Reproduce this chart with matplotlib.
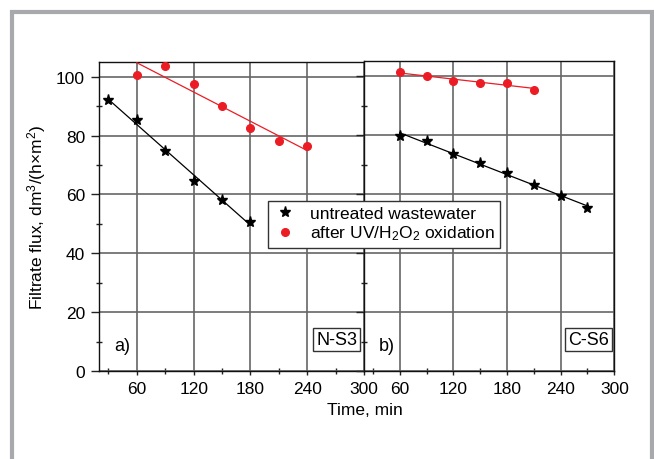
import numpy as np
import matplotlib
matplotlib.use('Agg')
import matplotlib.pyplot as plt
from matplotlib.patches import Rectangle
from matplotlib.ticker import FixedLocator

plt.rcParams['font.family'] = ['Liberation Sans', 'DejaVu Sans']
plt.rcParams['mathtext.fontset'] = 'custom'
plt.rcParams['mathtext.rm'] = 'Liberation Sans'
plt.rcParams['mathtext.it'] = 'Liberation Sans:italic'

# panel a) N-S3
a_time_raw = [30, 60, 90, 120, 150, 180]
a_flux_raw = [92.1, 85.3, 74.9, 64.4, 58.2, 50.6]
a_time_uv = [60, 90, 120, 150, 180, 210, 240]
a_flux_uv = [100.7, 103.6, 97.6, 90.0, 82.5, 78.0, 76.4]

# panel b) C-S6
b_time_raw = [60, 90, 120, 150, 180, 210, 240, 270]
b_flux_raw = [79.6, 78.1, 73.5, 70.5, 67.2, 63.1, 59.5, 55.3]
b_time_uv = [60, 90, 120, 150, 180, 210]
b_flux_uv = [101.3, 100.0, 98.3, 97.8, 97.8, 95.4]

x_ticks = [60, 120, 180, 240, 300]
x_minor = [30, 90, 150, 210, 270]
y_ticks = [0, 20, 40, 60, 80, 100]
y_minor = [10, 30, 50, 70, 90]

RED = '#ec1c24'
GRID = '#666666'

W, H = 654, 460
fig = plt.figure(figsize=(W / 100, H / 100), dpi=100)

ax1 = fig.add_axes([99 / W, 1 - 372 / H, (364 - 99) / W, (372 - 63) / H])
ax2 = fig.add_axes([364 / W, 1 - 372 / H, (614.3 - 364) / W, (372 - 62.3) / H])


def fit_line(ax, x, y, color):
    # straight trend line through each series
    k, b = np.polyfit(x, y, 1)
    xs = np.array([min(x), max(x)])
    ax.plot(xs, k * xs + b, color=color, lw=0.9, zorder=3)


for ax, tr, fr, tu, fu, tag, lab in [
    (ax1, a_time_raw, a_flux_raw, a_time_uv, a_flux_uv, 'a)', 'N-S3'),
    (ax2, b_time_raw, b_flux_raw, b_time_uv, b_flux_uv, 'b)', 'C-S6'),
]:
    ax.set_xlim(20, 300)
    ax.set_ylim(0, 105)
    ax.set_xticks(x_ticks)
    ax.set_yticks(y_ticks)
    ax.xaxis.set_minor_locator(FixedLocator(x_minor))
    ax.yaxis.set_minor_locator(FixedLocator(y_minor))
    ax.grid(True, which='major', color=GRID, lw=1.2, zorder=0)
    ax.set_axisbelow(True)
    ax.tick_params(which='major', direction='out', length=6, width=1, labelsize=12.5,
                   color='#222222', pad=4)
    ax.tick_params(axis='x', which='major', length=3)
    ax.tick_params(which='minor', direction='inout', length=5, width=1, color='#222222')
    for s in ax.spines.values():
        s.set_color('#111111')
        s.set_linewidth(1.0)

    fit_line(ax, tr, fr, 'black')
    fit_line(ax, tu, fu, RED)
    ax.plot(tr, fr, ls='none', marker='*', ms=8, color='black', zorder=4,
            label='untreated wastewater')
    ax.plot(tu, fu, ls='none', marker='o', ms=5.5, color=RED, mec=RED, zorder=4,
            label='after UV/H$_2$O$_2$ oxidation')

    ax.text(45, 8.5, tag, fontsize=13, ha='center', va='center')
    ax.text(271, 10.7, lab, fontsize=13, ha='center', va='center',
            bbox=dict(boxstyle='square,pad=0.15', fc='white', ec='#333333', lw=1))

ax2.tick_params(axis='y', labelleft=False)
ax1.spines['right'].set_visible(False)

ax1.set_ylabel('Filtrate flux, dm$^3$/(h×m$^2$)', fontsize=12.5, labelpad=6)
fig.text(365 / W, 1 - 411 / H, 'Time, min', fontsize=12.5, ha='center', va='center')

handles, labels = ax1.get_legend_handles_labels()
leg = fig.legend(handles, labels, loc='upper left',
                 bbox_to_anchor=(268.3 / W, 1 - 201.7 / H), fontsize=12.5,
                 frameon=True, fancybox=False, framealpha=1, edgecolor='#333333',
                 borderpad=0.3, handlelength=1.3, handletextpad=0.8, labelspacing=0.15,
                 borderaxespad=0)
leg.get_frame().set_linewidth(1.0)
leg.set_zorder(10)

# grey page frame around the figure
fig.patches.append(Rectangle((12 / W, -0.2), (652 - 12) / W, 1.2 - 13 / H,
                             transform=fig.transFigure, fill=False,
                             ec='#a7a9ac', lw=3, zorder=0))

fig.savefig('out.png', dpi=100)
